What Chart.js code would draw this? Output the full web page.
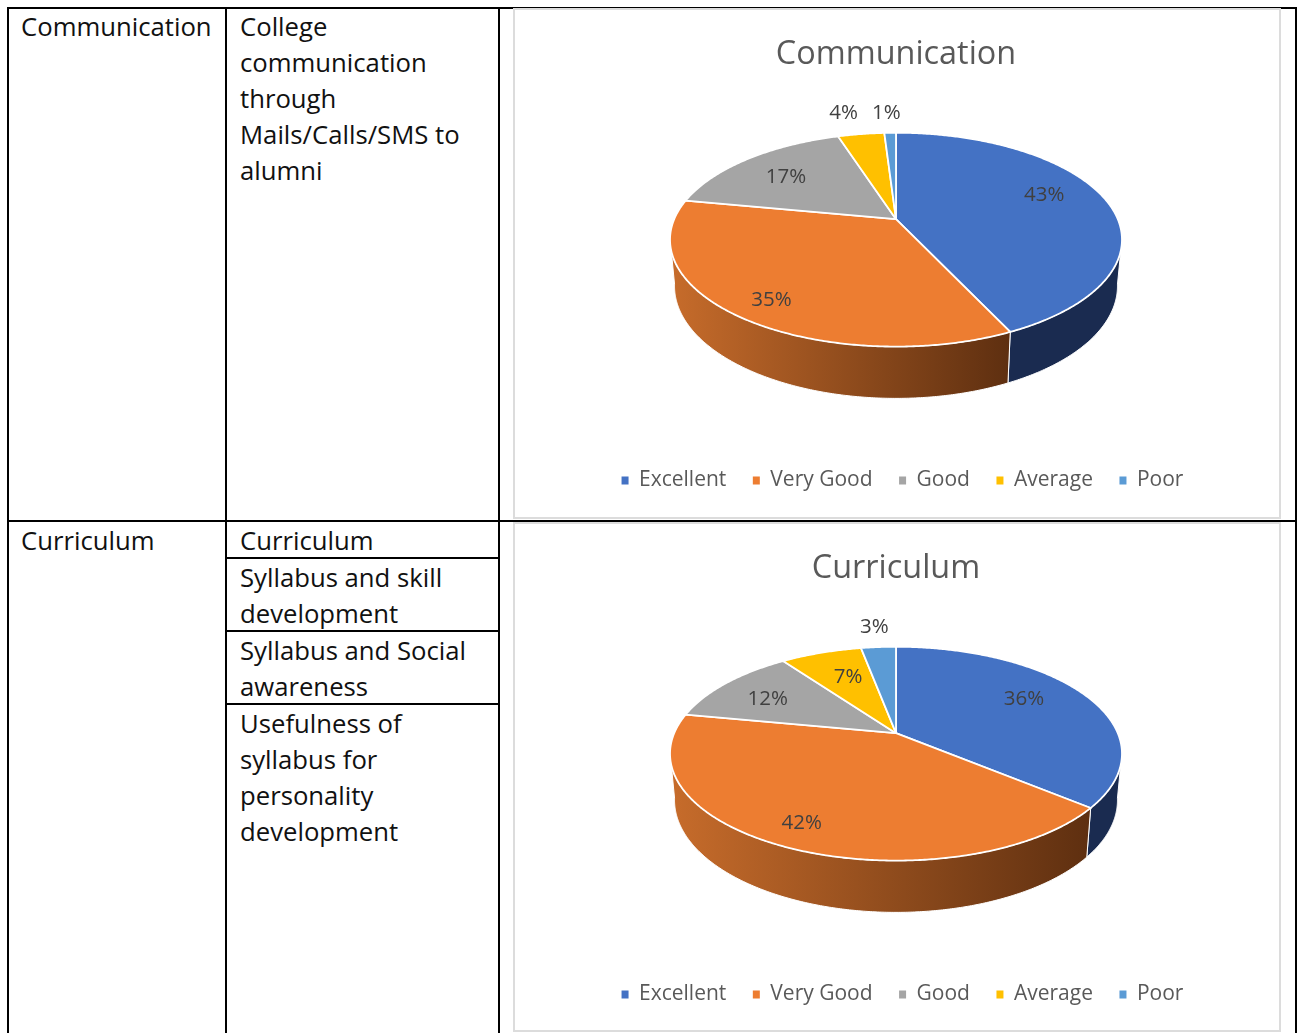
<!DOCTYPE html>
<html><head><meta charset="utf-8">
<style>
html,body{margin:0;padding:0;background:#fff;width:1298px;height:1033px;overflow:hidden}
.l{position:absolute;background:#000}
.t{position:absolute;font:25.7px/36px "Open Sans",sans-serif;color:#111;white-space:pre}
.f{position:absolute;box-sizing:border-box;border:2px solid #dcdcdc;background:#fff}
canvas{position:absolute}
</style>
<script src="https://cdn.jsdelivr.net/npm/chart.js@4"></script>
</head><body>
<div class="l" style="left:7px;top:7px;width:2px;height:1026px"></div>
<div class="l" style="left:225px;top:7px;width:2px;height:1026px"></div>
<div class="l" style="left:498px;top:7px;width:2px;height:1026px"></div>
<div class="l" style="left:1295px;top:7px;width:2px;height:1026px"></div>
<div class="l" style="left:7px;top:7px;width:1290px;height:2px"></div>
<div class="l" style="left:7px;top:520px;width:1290px;height:2px"></div>
<div class="l" style="left:226px;top:557px;width:273px;height:2px"></div>
<div class="l" style="left:226px;top:630px;width:273px;height:2px"></div>
<div class="l" style="left:226px;top:703px;width:273px;height:2px"></div>
<div class="t" style="left:21px;top:9px">Communication</div>
<div class="t" style="left:240px;top:9px">College
communication
through
Mails/Calls/SMS to
alumni</div>
<div class="t" style="left:21px;top:523px">Curriculum</div>
<div class="t" style="left:240px;top:523px">Curriculum</div>
<div class="t" style="left:240px;top:560px">Syllabus and skill
development</div>
<div class="t" style="left:240px;top:633px">Syllabus and Social
awareness</div>
<div class="t" style="left:240px;top:706px">Usefulness of
syllabus for
personality
development</div>
<div class="f" style="left:513px;top:8px;width:768px;height:511px"></div>
<div class="f" style="left:513px;top:522px;width:768px;height:510px"></div>
<canvas id="c1" width="766" height="508" style="left:514px;top:10px;width:766px;height:508px"></canvas>
<canvas id="c2" width="766" height="508" style="left:514px;top:524px;width:766px;height:508px"></canvas>
<script>
const categories = ['Excellent','Very Good','Good','Average','Poor'];
const communicationValues = [43,35,17,4,1];
const curriculumValues = [36,42,12,7,3];
const sliceColors = ['#4472c4','#ed7d31','#a5a5a5','#ffc000','#5b9bd5'];
const sideFrom = ['#1a2b50','#c76c2b','#6e6e6e','#a07800','#3a6a96'];
const sideTo = ['#1a2b50','#5e2f10','#6e6e6e','#a07800','#3a6a96'];
// label nudges from the projected slice anchor (layout only)
const nudges1 = [[1,-8.5],[-18,17],[-3,1.5],[-13,-10.5],[-3,-9]];
const nudges2 = [[-5,-4.5],[-19,16],[-6,2],[7,3],[-2,-9.5]];
const outside1 = [0,0,0,1,1], outside2 = [0,0,0,0,1];

const P=.1916, A=221.8, B=103, APEX_SHIFT=-44.5;
function proj(th,r){const u=r*Math.sin(th),v=-r*Math.cos(th),w=1-P*v;return {x:A*u/w,y:B*v/w,v};}
function low(p){return {x:p.x*.98,y:p.y*1.05+45.4};}
function sample(a,b){const n=Math.max(2,Math.ceil((b-a)/(Math.PI/360)));const o=[];for(let i=0;i<=n;i++)o.push(a+(b-a)*i/n);return o;}

function pie3d(nudges,outside){return {
  id:'pie3d',
  afterLayout(chart){chart.legend.left+=6.5;chart.legend.right+=6.5;},
  beforeDatasetDraw(chart){
    const ctx=chart.ctx, arcs=chart.getDatasetMeta(0).data;
    const ax=arcs[0].x, ay=arcs[0].y+APEX_SHIFT;
    const spans=arcs.map((e,i)=>{const p=e.getProps(['startAngle','endAngle']);return {i,a:p.startAngle+Math.PI/2,b:p.endAngle+Math.PI/2};});
    ctx.save();
    // side wall: only the part facing the viewer
    spans.forEach(s=>{
      const ths=sample(s.a,s.b).filter(t=>proj(t,1).v>P-.02);
      if(ths.length<2)return;
      const top=ths.map(t=>proj(t,1)), bot=top.map(low);
      const xs=top.map(p=>p.x);
      const g=ctx.createLinearGradient(ax+Math.min(...xs),0,ax+Math.max(...xs),0);
      g.addColorStop(0,sideFrom[s.i]);g.addColorStop(1,sideTo[s.i]);
      ctx.beginPath();
      top.forEach((p,k)=>k?ctx.lineTo(ax+p.x,ay+p.y):ctx.moveTo(ax+p.x,ay+p.y));
      bot.reverse().forEach(p=>ctx.lineTo(ax+p.x,ay+p.y));
      ctx.closePath();ctx.fillStyle=g;ctx.fill();
      ctx.strokeStyle='#fff';ctx.lineWidth=1;ctx.stroke();
    });
    // top face
    spans.forEach(s=>{
      ctx.beginPath();ctx.moveTo(ax,ay);
      sample(s.a,s.b).forEach(t=>{const p=proj(t,1);ctx.lineTo(ax+p.x,ay+p.y);});
      ctx.closePath();ctx.fillStyle=sliceColors[s.i];ctx.fill();
      ctx.strokeStyle='#fff';ctx.lineWidth=1.8;ctx.lineJoin='round';ctx.stroke();
    });
    // data labels
    const vals=chart.data.datasets[0].data;
    ctx.font='20.5px "Open Sans",sans-serif';ctx.fillStyle='#404040';ctx.textAlign='center';ctx.textBaseline='middle';
    spans.forEach(s=>{
      const p=proj((s.a+s.b)/2,outside[s.i]?1.15:.7);
      ctx.fillText(vals[s.i]+'%',ax+p.x+nudges[s.i][0],ay+p.y+nudges[s.i][1]);
    });
    ctx.restore();
    return false;
  }
};}
function make(id,title,vals,nudges,outside){
  new Chart(document.getElementById(id),{
    type:'pie',
    data:{labels:categories,datasets:[{data:vals,backgroundColor:sliceColors,borderColor:'#fff',borderWidth:0,clip:false}]},
    plugins:[pie3d(nudges,outside)],
    options:{responsive:false,animation:false,radius:226,
      layout:{padding:{top:0,bottom:17,left:0,right:2}},
      plugins:{tooltip:{enabled:false},
        title:{display:true,text:title,color:'#595959',font:{family:'"Open Sans",sans-serif',size:32.4,weight:'normal'},padding:{top:25,bottom:10}},
        legend:{position:'bottom',labels:{color:'#595959',font:{family:'"Open Sans",sans-serif',size:21},boxWidth:7,boxHeight:8,padding:26.5}}
      }}
  });
}
make('c1','Communication',communicationValues,nudges1,outside1);
make('c2','Curriculum',curriculumValues,nudges2,outside2);
</script>
</body></html>
